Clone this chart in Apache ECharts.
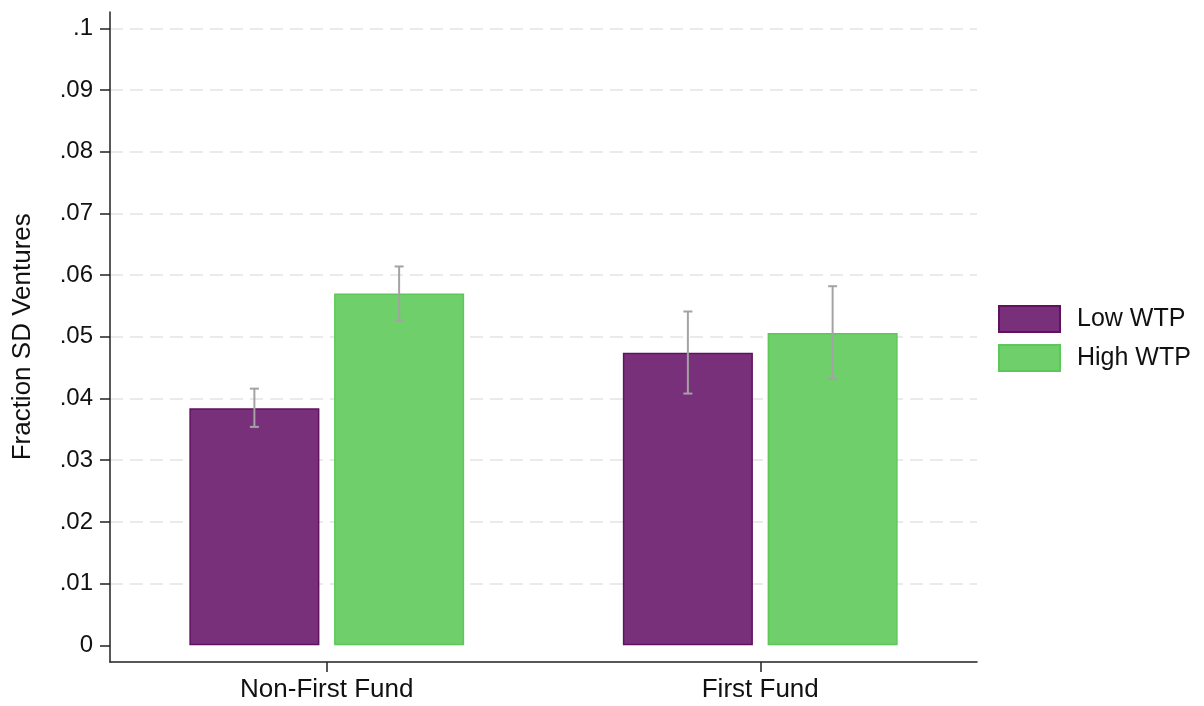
<!DOCTYPE html>
<html>
<head>
<meta charset="utf-8">
<script src="https://cdn.jsdelivr.net/npm/echarts@6/dist/echarts.min.js"></script>
<style>
  html, body { margin: 0; padding: 0; background: #fff; }
  #chart { width: 1204px; height: 706px; }
</style>
</head>
<body>
<div id="chart"></div>
<script>
// Fund groups on the x axis
const categories = ['Non-First Fund', 'First Fund'];

// Mean fraction of SD ventures by willingness-to-pay group
const lowWTP  = [0.0384, 0.0474];
const highWTP = [0.0570, 0.0506];

// Confidence interval bounds [lower, upper]
const lowWTPCI  = [[0.0354, 0.0416], [0.0408, 0.0541]];
const highWTPCI = [[0.0527, 0.0614], [0.0432, 0.0582]];

// y-axis ticks
const yMin = 0, yMax = 0.1, yStep = 0.01;

const FONT = '"Liberation Sans", Arial, Helvetica, sans-serif';
const BAR_W = 0.30;     // bar width as share of the category band
const BAR_GAP = 0.113;  // gap between bars as share of bar width

function errorSeries(name, ci, side) {
  return {
    type: 'custom',
    name: name,
    xAxisIndex: 0,
    yAxisIndex: 0,
    z: 5,
    silent: true,
    data: ci.map((d, i) => [i, d[0], d[1]]),
    renderItem: function (params, api) {
      const band = api.size([1, 0])[0];
      const bw = band * BAR_W;
      const off = side * (bw + bw * BAR_GAP) / 2;
      const lo = api.coord([api.value(0), api.value(1)]);
      const hi = api.coord([api.value(0), api.value(2)]);
      const x = lo[0] + off;
      const cap = 4.5;
      const style = { stroke: '#a3a3a3', lineWidth: 2, fill: null };
      return {
        type: 'group',
        children: [
          { type: 'line', shape: { x1: x, y1: lo[1], x2: x, y2: hi[1] }, style: style },
          { type: 'line', shape: { x1: x - cap, y1: lo[1], x2: x + cap, y2: lo[1] }, style: style },
          { type: 'line', shape: { x1: x - cap, y1: hi[1], x2: x + cap, y2: hi[1] }, style: style }
        ]
      };
    }
  };
}

const chart = echarts.init(document.getElementById('chart'), null, { renderer: 'canvas' });

chart.setOption({
  backgroundColor: '#ffffff',
  animation: false,
  textStyle: { fontFamily: FONT },
  legend: {
    orient: 'vertical',
    left: 998,
    top: 305,
    itemWidth: 61,
    itemHeight: 26,
    itemGap: 11,
    padding: 0,
    icon: 'rect',
    selectedMode: false,
    data: ['Low WTP', 'High WTP'],
    textStyle: { fontFamily: FONT, fontSize: 25, color: '#111', padding: [0, 0, 0, 12] }
  },
  grid: [
    // data area: 0 to .1
    { left: 110, right: 227, top: 28.3, bottom: 60.7, containLabel: false },
    // frame with the axis lines
    { left: 110, right: 227, top: 12, bottom: 44, containLabel: false }
  ],
  xAxis: [
    {
      type: 'category', gridIndex: 0, data: categories,
      axisLine: { show: false }, axisTick: { show: false }, axisLabel: { show: false },
      splitLine: { show: false }
    },
    {
      type: 'category', gridIndex: 1, data: categories,
      axisLine: { show: true, lineStyle: { color: '#222', width: 1.5 } },
      axisTick: { show: true, alignWithLabel: true, length: 10, lineStyle: { color: '#222', width: 1.5 } },
      axisLabel: { fontFamily: FONT, fontSize: 26, color: '#111', margin: 15 }
    }
  ],
  yAxis: [
    {
      type: 'value', gridIndex: 0, min: yMin, max: yMax, interval: yStep,
      axisLine: { show: false },
      axisTick: { show: true, length: 10, lineStyle: { color: '#222', width: 1.5 } },
      axisLabel: {
        fontFamily: FONT, fontSize: 24, color: '#111', margin: 17,
        formatter: function (v) {
          if (Math.abs(v) < 1e-9) return '0';
          return String(parseFloat(v.toFixed(2))).replace(/^0/, '');
        }
      },
      splitLine: { show: true, showMinLine: false, lineStyle: { color: '#e3e3e3', width: 1.5, type: [13, 7] } },
      name: 'Fraction SD Ventures',
      nameLocation: 'middle',
      nameGap: 74,
      nameTextStyle: { fontFamily: FONT, fontSize: 26, color: '#111' }
    },
    {
      type: 'value', gridIndex: 1, min: 0, max: 1,
      axisLine: { show: true, lineStyle: { color: '#222', width: 1.5 } },
      axisTick: { show: false }, axisLabel: { show: false }, splitLine: { show: false }
    }
  ],
  series: [
    {
      name: 'Low WTP', type: 'bar', xAxisIndex: 0, yAxisIndex: 0,
      data: lowWTP, barWidth: (BAR_W * 100) + '%', barGap: (BAR_GAP * 100) + '%',
      itemStyle: { color: '#78307a', borderColor: '#62115f', borderWidth: 1.5 }
    },
    {
      name: 'High WTP', type: 'bar', xAxisIndex: 0, yAxisIndex: 0,
      data: highWTP, barWidth: (BAR_W * 100) + '%', barGap: (BAR_GAP * 100) + '%',
      itemStyle: { color: '#6fcf6b', borderColor: '#5cc859', borderWidth: 1.5 }
    },
    errorSeries('Low WTP CI', lowWTPCI, -1),
    errorSeries('High WTP CI', highWTPCI, 1)
  ]
});
</script>
</body>
</html>
